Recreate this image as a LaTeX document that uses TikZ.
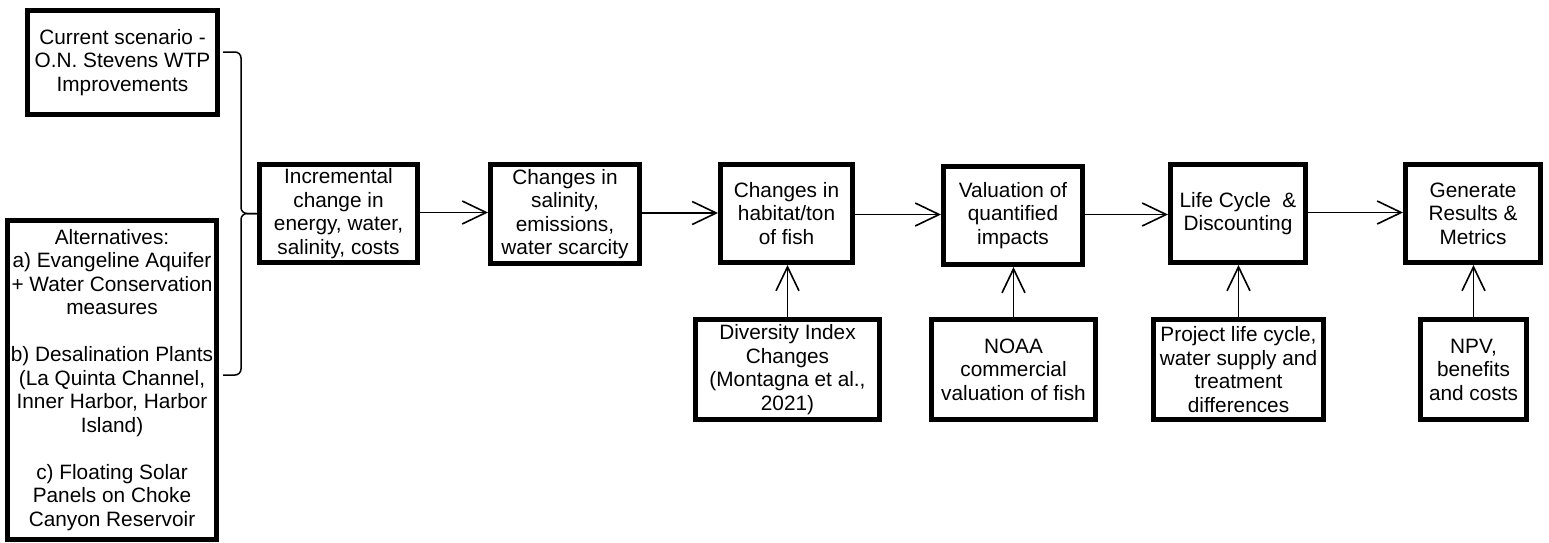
\documentclass[tikz,border=0pt]{standalone}
\usepackage{fontspec}
\setmainfont{Liberation Sans}
\usetikzlibrary{arrows.meta}

\begin{document}
\begin{tikzpicture}[
  x=1pt, y=-1pt,
  stepbox/.style={draw=black, line width=5pt, fill=white, inner sep=0pt,
    align=center, font=\fontsize{20.8pt}{23.5pt}\selectfont},
  flow/.style={draw=black, line width=1.6pt,
    -{Straight Barb[length=24pt, width=23pt, line width=1.6pt]}},
  brace/.style={draw=black, line width=1.5pt, rounded corners=6pt}
]
\useasboundingbox (0,0) rectangle (1549,542);

% scenario inputs on the left
\node[stepbox, minimum width=190pt, minimum height=104pt] (cur) at (122.5,62.5)
  {Current scenario -\\O.N. Stevens WTP\\Improvements};
\node[stepbox, minimum width=209pt, minimum height=319pt] (alt) at (112,380)
  {Alternatives:\\a) Evangeline Aquifer\\+ Water Conservation\\measures\\[23.5pt]
   b) Desalination Plants\\(La Quinta Channel,\\Inner Harbor, Harbor\\Island)\\[23.5pt]
   c) Floating Solar\\Panels on Choke\\Canyon Reservoir};

% main chain
\node[stepbox, minimum width=158pt, minimum height=98pt] (inc) at (338.5,213.5)
  {Incremental\\change in\\energy, water,\\salinity, costs};
\node[stepbox, minimum width=149pt, minimum height=99pt] (sal) at (565,214)
  {Changes in\\salinity,\\emissions,\\water scarcity};
\node[stepbox, minimum width=132pt, minimum height=98pt] (hab) at (786.5,213.5)
  {Changes in\\habitat/ton\\of fish};
\node[stepbox, minimum width=139pt, minimum height=98pt] (val) at (1013,215.5)
  {Valuation of\\quantified\\impacts};
\node[stepbox, minimum width=135pt, minimum height=98pt] (lcd) at (1238,213.5)
  {Life Cycle\ \ \&\\Discounting};
\node[stepbox, minimum width=135pt, minimum height=98pt] (gen) at (1473,213.5)
  {Generate\\Results \&\\Metrics};

% supporting inputs underneath
\node[stepbox, minimum width=184pt, minimum height=100pt] (div) at (787.5,369.5)
  {Diversity Index\\Changes\\(Montagna et al.,\\2021)};
\node[stepbox, minimum width=164pt, minimum height=100pt] (noaa) at (1013.5,369.5)
  {NOAA\\commercial\\valuation of fish};
\node[stepbox, minimum width=170pt, minimum height=100pt] (proj) at (1238.5,369.5)
  {Project life cycle,\\water supply and\\treatment\\differences};
\node[stepbox, minimum width=106pt, minimum height=100pt] (npv) at (1473.5,369.5)
  {NPV,\\benefits\\and costs};

% brace joining the scenarios
\draw[brace] ([shift={(3pt,10.5pt)}]cur.east) -| ([xshift=-16pt]inc.west) -- (inc.west);
\draw[brace] ([shift={(4pt,5pt)}]alt.east) -| ([xshift=-16pt]inc.west) -- (inc.west);

% horizontal flow
\draw[flow] ([yshift=1pt]inc.east) -- ([yshift=1pt]inc.east -| sal.west);
\draw[flow] ([yshift=1pt]sal.east) -- ([yshift=1pt]sal.east -| hab.west);
\draw[flow] ([yshift=-1pt]hab.east) -- ([yshift=-1pt]hab.east -| val.west);
\draw[flow] ([yshift=1pt]val.east) -- ([yshift=1pt]val.east -| lcd.west);
\draw[flow] ([yshift=1pt]lcd.east) -- ([yshift=1pt]lcd.east -| gen.west);

% vertical inputs
\draw[flow] (div.north) -- (div.north |- hab.south);
\draw[flow] (noaa.north) -- (noaa.north |- val.south);
\draw[flow] (proj.north) -- (proj.north |- lcd.south);
\draw[flow] (npv.north) -- (npv.north |- gen.south);
\end{tikzpicture}
\end{document}
